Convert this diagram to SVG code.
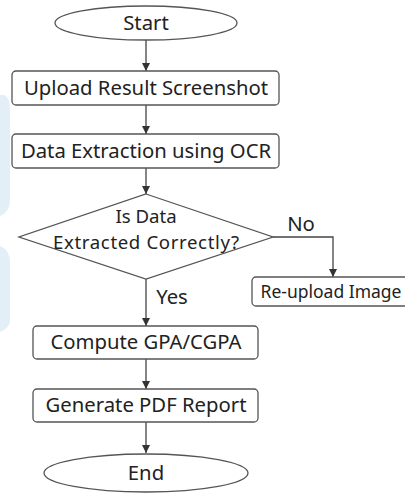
<svg xmlns="http://www.w3.org/2000/svg" width="405" height="493" viewBox="0 0 405 493">
<style>
.n{fill:#fff;stroke:#555;stroke-width:1.3}
.t{font-family:"Noto Sans","Open Sans",sans-serif;font-size:20.3px;fill:#222;text-anchor:middle}
.d{font-size:18.6px}
.c{fill:none;stroke:#444;stroke-width:1.3}
</style>
<defs>
<marker id="ah" viewBox="0 0 10 10" refX="10" refY="5" markerWidth="8" markerHeight="8" markerUnits="userSpaceOnUse" orient="auto">
<path d="M0,0 L10,5 L0,10 z" fill="#333"/>
</marker>
</defs>
<rect width="405" height="493" fill="#fff"/>
<g id="bg">
<path d="M0,95 L4,95 Q10,97 10,110 L10,200 Q10,212 0,216 z" fill="#e3eff6"/>
<path d="M0,246 Q10,250 10,262 L10,320 Q10,328 0,332 z" fill="#e3eff6"/>
</g>
<g id="connectors">
<line class="c" x1="146" y1="40" x2="146" y2="71" marker-end="url(#ah)"/>
<line class="c" x1="146" y1="105" x2="146" y2="134" marker-end="url(#ah)"/>
<line class="c" x1="146" y1="168" x2="146" y2="194" marker-end="url(#ah)"/>
<polyline class="c" points="273,237 333,237 333,277" marker-end="url(#ah)"/>
<line class="c" x1="146" y1="279" x2="146" y2="326" marker-end="url(#ah)"/>
<line class="c" x1="146" y1="359" x2="146" y2="389" marker-end="url(#ah)"/>
<line class="c" x1="146" y1="422" x2="146" y2="453" marker-end="url(#ah)"/>
<text class="t" x="301" y="231">No</text>
<text class="t" x="172" y="304">Yes</text>
</g>
<g id="start">
<ellipse class="n" cx="146" cy="23" rx="91" ry="17"/>
<text class="t" x="146" y="30">Start</text>
</g>
<g id="upload">
<rect class="n" x="12" y="71" width="267" height="34" rx="4"/>
<text class="t" x="146" y="95">Upload Result Screenshot</text>
</g>
<g id="extract">
<rect class="n" x="12" y="134" width="267" height="34" rx="4"/>
<text class="t" x="146" y="158">Data Extraction using OCR</text>
</g>
<g id="decision">
<polygon class="n" points="146,194 273,237 146,279 19,237"/>
<text class="t d" x="146" y="223">Is Data</text>
<text class="t d" x="146" y="249" textLength="186" lengthAdjust="spacing">Extracted Correctly?</text>
</g>
<g id="reupload">
<rect class="n" x="252" y="277" width="160" height="29" rx="4"/>
<text class="t" x="331" y="298" style="font-size:17.5px">Re-upload Image</text>
</g>
<g id="compute">
<rect class="n" x="33" y="326" width="225" height="33" rx="4"/>
<text class="t" x="146" y="349">Compute GPA/CGPA</text>
</g>
<g id="report">
<rect class="n" x="33" y="389" width="225" height="33" rx="4"/>
<text class="t" x="146" y="412">Generate PDF Report</text>
</g>
<g id="end">
<ellipse class="n" cx="146" cy="473" rx="102" ry="19"/>
<text class="t" x="146" y="480">End</text>
</g>
</svg>
